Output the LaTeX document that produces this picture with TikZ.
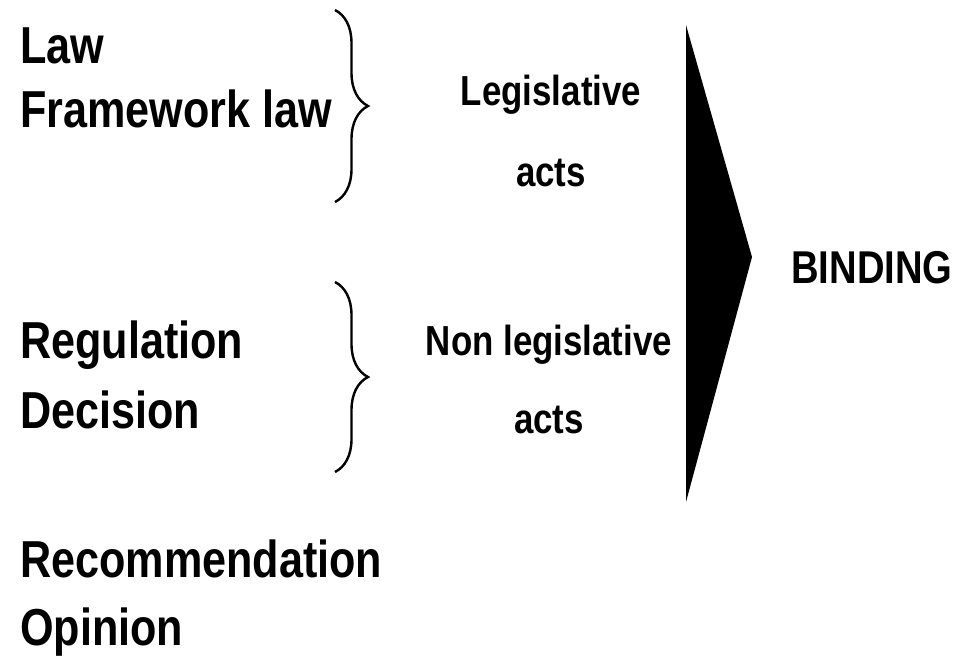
\documentclass[tikz,border=0pt]{standalone}
\usepackage{fontspec}
\newfontfamily\narrowsans[FakeStretch=0.83]{Liberation Sans}
\usetikzlibrary{decorations.pathreplacing}

\begin{document}
\begin{tikzpicture}[
            x=1pt, y=-1pt,
            act/.style={anchor=base west, inner sep=0pt, font=\narrowsans\bfseries\fontsize{52}{60}\selectfont},
            kind/.style={anchor=base, inner sep=0pt, font=\narrowsans\bfseries\fontsize{42}{50}\selectfont},
            curly/.style={draw, line width=2.4pt, decorate, decoration={brace, amplitude=33pt}}
            ]
            \useasboundingbox (0,0) rectangle (968,657);
            % the acts
            \node[act] (law) at (20,63) {Law};
            \node[act] (frame) at (20,127) {Framework law};
            \node[act] (regul) at (20,358) {Regulation};
            \node[act] (decis) at (20,428) {Decision};
            \node[act] (recom) at (20,577) {Recommendation};
            \node[act] (opin) at (20,645) {Opinion};
            % braces
            \coordinate (legtop) at (335,10);
            \coordinate (legbot) at (335,202);
            \coordinate (nontop) at (335,282);
            \coordinate (nonbot) at (335,472);
            \draw[curly] (legtop) -- (legbot);
            \draw[curly] (nontop) -- (nonbot);
            % kinds of acts
            \node[kind] (leg) at (551,105) {Legislative};
            \node[kind] (legacts) at (551,186) {acts};
            \node[kind] (non) at (549,355) {Non legislative};
            \node[kind] (nonacts) at (549,433) {acts};
            % arrow head
            \coordinate (arrtop) at (686,25);
            \coordinate (arrtip) at (752,257);
            \coordinate (arrbot) at (686,502);
            \fill (arrtop) -- (arrtip) -- (arrbot) -- cycle;
            \node[kind, font=\narrowsans\bfseries\fontsize{46}{54}\selectfont] (bind) at (872,283) {BINDING};
\end{tikzpicture}
\end{document}
